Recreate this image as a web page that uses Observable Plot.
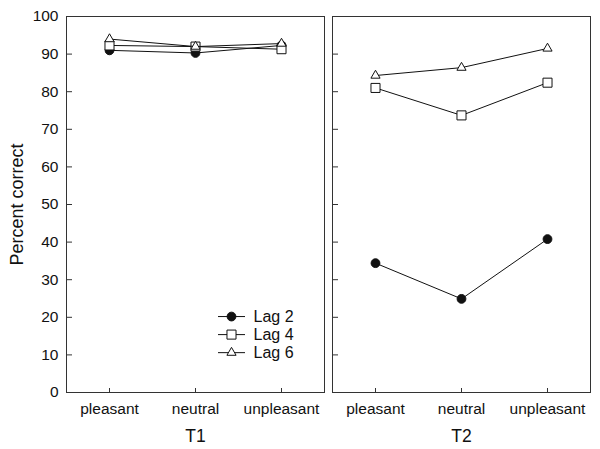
<!DOCTYPE html>
<html>
<head>
<meta charset="utf-8">
<script src="https://cdn.jsdelivr.net/npm/d3@7"></script>
<script src="https://cdn.jsdelivr.net/npm/@observablehq/plot@0.6"></script>
<style>
  html, body { margin: 0; padding: 0; background: #fff; }
  #chart svg { display: block; }
</style>
</head>
<body>
<div id="chart"></div>
<script>
// ---- data ----
const targets = ["T1", "T2"];
const valence = ["pleasant", "neutral", "unpleasant"];
const lags = ["Lag 2", "Lag 4", "Lag 6"];
const t1Lag2 = [91.0, 90.3, 92.3];
const t1Lag4 = [92.3, 92.0, 91.3];
const t1Lag6 = [94.0, 92.0, 92.8];
const t2Lag2 = [34.4, 24.9, 40.8];
const t2Lag4 = [81.0, 73.7, 82.4];
const t2Lag6 = [84.3, 86.4, 91.5];
const yTicks = [0, 10, 20, 30, 40, 50, 60, 70, 80, 90, 100];

const seriesValues = {
  "T1": {"Lag 2": t1Lag2, "Lag 4": t1Lag4, "Lag 6": t1Lag6},
  "T2": {"Lag 2": t2Lag2, "Lag 4": t2Lag4, "Lag 6": t2Lag6}
};
const rows = [];
for (const t of targets) for (const lag of lags)
  valence.forEach((v, i) => rows.push({target: t, lag, valence: v, value: seriesValues[t][lag][i]}));

// ---- styles ----
const ink = "#111";
const markerStyle = {
  "Lag 2": {symbol: "circle", r: 4.4, fill: ink},
  "Lag 4": {symbol: "square", r: 5.1, fill: "white"},
  "Lag 6": {symbol: "triangle", r: 3.4, fill: "white"}
};

const seriesMarks = [];
lags.forEach((lag, i) => {
  const st = markerStyle[lag];
  seriesMarks.push(
    Plot.line(rows, {filter: d => d.lag === lag, x: "valence", y: "value", fx: "target", stroke: ink, strokeWidth: 1}),
    Plot.dot(rows, {filter: d => d.lag === lag, x: "valence", y: "value", fx: "target",
      symbol: st.symbol, r: st.r, fill: st.fill, stroke: ink, strokeWidth: 1}),
    // legend entry (inside T1 panel)
    Plot.ruleY([lag], {y: () => 20.2 - i * 4.8, fx: () => targets[0], insetLeft: 152, insetRight: 79, stroke: ink, strokeWidth: 1}),
    Plot.dot([lag], {y: () => 20.2 - i * 4.8, fx: () => targets[0], frameAnchor: "left", dx: 165,
      symbol: st.symbol, r: st.r, fill: st.fill, stroke: ink, strokeWidth: 1}),
    Plot.text([lag], {y: () => 20.2 - i * 4.8, fx: () => targets[0], frameAnchor: "left", dx: 187,
      text: d => d, textAnchor: "start", fontSize: 16, fill: ink})
  );
});

const chart = Plot.plot({
  width: 600,
  height: 449,
  marginLeft: 66,
  marginRight: 10,
  marginTop: 16,
  marginBottom: 57,
  style: {fontFamily: "'Liberation Sans', Arial, sans-serif", fontSize: "15px", color: ink, background: "white"},
  fx: {domain: targets, paddingInner: 8 / 266, paddingOuter: 0},
  x: {type: "point", domain: valence, padding: 0.5},
  y: {domain: [0, 100]},
  marks: [
    Plot.frame({stroke: "#333", strokeWidth: 1}),
    // y tick labels (left panel only)
    Plot.axisY(yTicks, {anchor: "left", tickSize: 0, tickPadding: 8, label: null, fontSize: 15.5}),
    // y axis title
    Plot.axisY(yTicks, {anchor: "left", tickSize: 0, text: null, label: "Percent correct", labelAnchor: "center", labelArrow: "none", labelOffset: 56, fontSize: 18}),
    // inward y ticks in both panels
    Plot.axisY(yTicks, {anchor: "right", frameAnchor: "left", text: null, label: null, tickSize: 5, facetAnchor: null, stroke: "#333"}),
    // inward x ticks
    Plot.axisX({anchor: "top", frameAnchor: "bottom", text: null, label: null, tickSize: 5, facetAnchor: null, stroke: "#333"}),
    // x tick labels
    Plot.axisX({anchor: "bottom", tickSize: 0, tickPadding: 10, label: null, fontSize: 15.5, facetAnchor: null}),
    // panel labels
    Plot.axisFx({anchor: "bottom", tickSize: 0, tickPadding: 37, label: null, fontSize: 17.5}),
    ...seriesMarks
  ]
});
document.getElementById("chart").appendChild(chart);
</script>
</body>
</html>
